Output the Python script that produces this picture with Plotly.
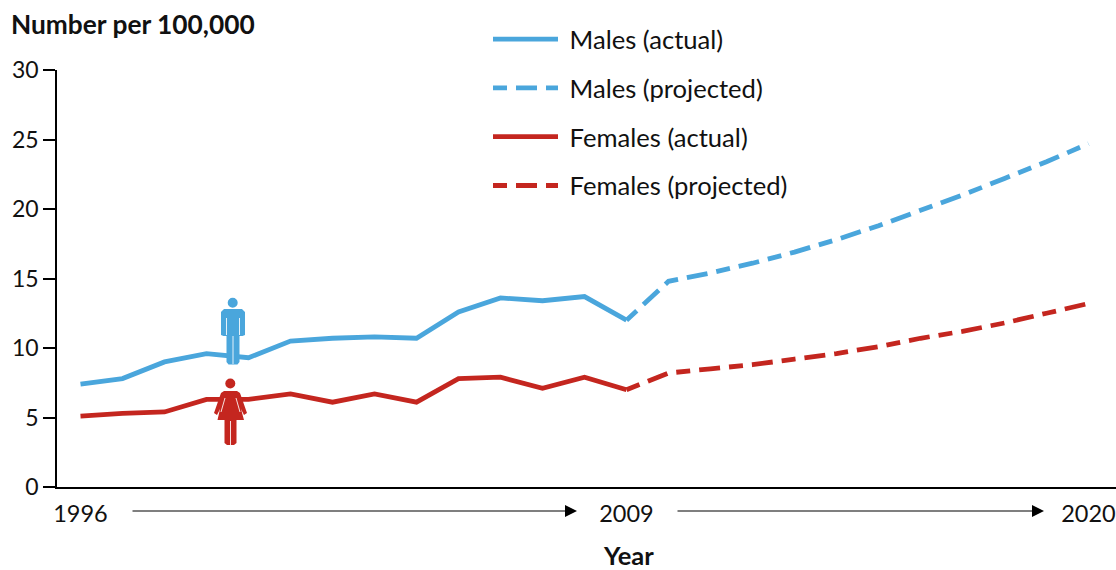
import plotly.graph_objects as go

W, H = 1116, 570
L, R, T, B = 57, 1116, 70, 487
FONT = "Lato"

years_actual = list(range(1996, 2010))
years_projected = list(range(2009, 2021))
males_actual = [7.4, 7.8, 9.0, 9.6, 9.3, 10.5, 10.7, 10.8, 10.7, 12.6, 13.6, 13.4, 13.7, 12.0]
males_projected = [12.0, 14.8, 15.4, 16.1, 16.9, 17.8, 18.8, 19.9, 21.0, 22.2, 23.4, 24.7]
females_actual = [5.1, 5.3, 5.4, 6.3, 6.3, 6.7, 6.1, 6.7, 6.1, 7.8, 7.9, 7.1, 7.9, 7.0]
females_projected = [7.0, 8.2, 8.5, 8.8, 9.2, 9.6, 10.1, 10.7, 11.2, 11.8, 12.5, 13.2]
y_ticks = [0, 5, 10, 15, 20, 25, 30]
x_ticks = [1996, 2009, 2020]
BLUE, RED = "#4aa6dc", "#c4261f"
DASH = "14px,9px,21px,9px"


def px(x):
    return (x - L) / (R - L)


def py(y):
    return (B - y) / (B - T)


def path(points):
    return "M" + "L".join(f"{px(x):.5f},{py(y):.5f}" for x, y in points) + "Z"


def ellipse(cx, cy, r, color):
    return dict(type="circle", xref="paper", yref="paper", x0=px(cx - r), x1=px(cx + r),
                y0=py(cy + r), y1=py(cy - r), fillcolor=color, line_width=0, layer="above")


def poly(points, color):
    return dict(type="path", xref="paper", yref="paper", path=path(points), fillcolor=color,
                line=dict(width=0), layer="above")


def slit(x0, y0, x1, y1):
    return dict(type="line", xref="paper", yref="paper", x0=px(x0), y0=py(y0), x1=px(x1), y1=py(y1),
                line=dict(color="rgba(255,255,255,0.85)", width=1), layer="above")


man_body = [(224, 309), (242, 309), (245, 312), (245, 335), (242.5, 336), (239.5, 336), (239.5, 362),
            (237.5, 364.5), (228.5, 364.5), (226.5, 362), (226.5, 336), (223.5, 336), (221, 335), (221, 312)]
woman_body = [(224, 391), (237, 391), (240, 393), (247, 413), (244, 415), (241, 409), (244, 420),
              (236.5, 420), (236.5, 443), (234, 445), (227, 445), (224.5, 443), (224.5, 420), (217.5, 420),
              (220, 409), (217, 415), (214, 413), (221, 393)]

fig = go.Figure()
for name, xs, ys, color, dash in [
    ("Males (actual)", years_actual, males_actual, BLUE, "solid"),
    ("Males (projected)", years_projected, males_projected, BLUE, DASH),
    ("Females (actual)", years_actual, females_actual, RED, "solid"),
    ("Females (projected)", years_projected, females_projected, RED, DASH),
]:
    fig.add_trace(go.Scatter(x=xs, y=ys, mode="lines", name="\u00a0" + name, legendgroup=name,
                             line=dict(color=color, width=4.8, dash=dash)))

annotations = [
    dict(text="<b>Number per 100,000</b>", xref="paper", yref="paper", x=px(9), y=py(24),
         xanchor="left", yanchor="middle", showarrow=False, font=dict(size=26.3)),
    dict(text="<b>Year</b>", xref="paper", yref="paper", x=px(628), y=py(569.5),
         xanchor="center", yanchor="bottom", showarrow=False, font=dict(size=25.5), borderpad=0, borderwidth=0),
]
for x0, x1 in [(131, 577), (676, 1044)]:
    annotations.append(dict(x=px(x1), y=py(511), ax=x0 - x1, ay=0, xref="paper", yref="paper",
                            axref="pixel", ayref="pixel", text="", showarrow=True, arrowhead=2,
                            arrowsize=2, arrowwidth=1.2, arrowcolor="#000"))

fig.update_layout(
    width=W, height=H, autosize=False,
    margin=dict(l=L, r=W - R, t=T, b=H - B, pad=0),
    paper_bgcolor="white", plot_bgcolor="white",
    font=dict(family=FONT, size=24, color="#111"),
    xaxis=dict(range=[1996 + (57 - 80.5) / 42, 1996 + (1116 - 80.5) / 42], tickmode="array", tickvals=x_ticks,
               ticktext=[str(v) for v in x_ticks], showgrid=False, zeroline=False, showline=True,
               linecolor="#000", linewidth=2, ticks="", ticklabelstandoff=5,
               tickfont=dict(size=23.5)),
    yaxis=dict(range=[0, 30], tickmode="array", tickvals=y_ticks, showgrid=False, zeroline=False,
               showline=True, linecolor="#000", linewidth=1.5, ticks="outside", ticklen=12,
               tickwidth=1.5, tickcolor="#000", tickfont=dict(size=23)),
    legend=dict(x=px(488), y=py(16), xanchor="left", yanchor="top", bgcolor="rgba(0,0,0,0)",
                itemwidth=65, tracegroupgap=12.5, traceorder="grouped", font=dict(size=25.6)),
    showlegend=True,
    annotations=annotations,
    shapes=[
        ellipse(232.7, 302.7, 5, BLUE), poly(man_body, BLUE),
        slit(226.5, 318, 226.5, 335), slit(239.5, 318, 239.5, 335), slit(233, 336, 233, 364),
        ellipse(230.3, 383.5, 5, RED), poly(woman_body, RED),
        slit(225, 398, 221, 412), slit(236, 398, 240, 412), slit(230.5, 421, 230.5, 445),
    ],
)
fig.write_html("out.html", config={"displayModeBar": False},
               post_script="document.body.style.margin='0';document.body.style.overflow='hidden';")
